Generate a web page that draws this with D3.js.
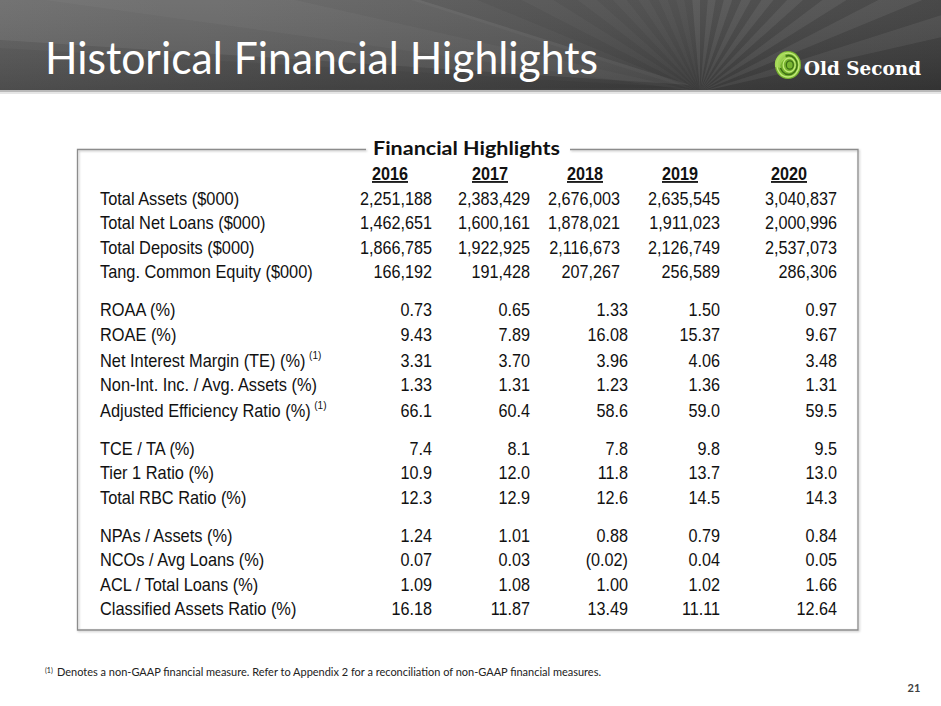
<!DOCTYPE html>
<html><head><meta charset="utf-8">
<script src="https://cdn.jsdelivr.net/npm/d3@7"></script>
<style>html,body{margin:0;padding:0;background:#fff;}svg{display:block;}</style>
</head><body>
<svg id="c" width="941" height="706"></svg>
<script>
// ---------- data ----------
const pageTitle = "Historical Financial Highlights";
const tableTitle = "Financial Highlights";
const years = ["2016", "2017", "2018", "2019", "2020"];
const rowLabels = [
  "Total Assets ($000)", "Total Net Loans ($000)", "Total Deposits ($000)", "Tang. Common Equity ($000)",
  "ROAA (%)", "ROAE (%)",
  "Net Interest Margin (TE) (%)", "Non-Int. Inc. / Avg. Assets (%)", "Adjusted Efficiency Ratio (%)",
  "TCE / TA (%)", "Tier 1 Ratio (%)", "Total RBC Ratio (%)",
  "NPAs / Assets (%)", "NCOs / Avg Loans (%)", "ACL / Total Loans (%)", "Classified Assets Ratio (%)"
];
const rowGroups = [0,0,0,0, 1,1, 1,1,1, 2,2,2, 3,3,3,3];
const rowNote = [0,0,0,0, 0,0, 1,0,1, 0,0,0, 0,0,0,0];
const rowDecimals = [-1,-1,-1,-1, 2,2, 2,2,1, 1,1,1, 2,2,2,2]; // -1 = thousands with commas
const v2016 = [2251188, 1462651, 1866785, 166192, 0.73, 9.43, 3.31, 1.33, 66.1, 7.4, 10.9, 12.3, 1.24, 0.07, 1.09, 16.18];
const v2017 = [2383429, 1600161, 1922925, 191428, 0.65, 7.89, 3.70, 1.31, 60.4, 8.1, 12.0, 12.9, 1.01, 0.03, 1.08, 11.87];
const v2018 = [2676003, 1878021, 2116673, 207267, 1.33, 16.08, 3.96, 1.23, 58.6, 7.8, 11.8, 12.6, 0.88, -0.02, 1.00, 13.49];
const v2019 = [2635545, 1911023, 2126749, 256589, 1.50, 15.37, 4.06, 1.36, 59.0, 9.8, 13.7, 14.5, 0.79, 0.04, 1.02, 11.11];
const v2020 = [3040837, 2000996, 2537073, 286306, 0.97, 9.67, 3.48, 1.31, 59.5, 9.5, 13.0, 14.3, 0.84, 0.05, 1.66, 12.64];
const noteMark = "(1)";
const footnoteText = "Denotes a non-GAAP financial measure.  Refer to Appendix 2 for a reconciliation of non-GAAP financial measures.";
const pageNumber = "21";
const brand = "Old Second";

// ---------- layout ----------
const columns = [v2016, v2017, v2018, v2019, v2020];
const svg = d3.select("#c");
const W = 941, H = 706;
const defs = svg.append("defs");

// header background
const hg = defs.append("linearGradient").attr("id","hg").attr("x1",0).attr("y1",0).attr("x2",1).attr("y2",0);
hg.append("stop").attr("offset","0%").attr("stop-color","#5c5c5c");
hg.append("stop").attr("offset","55%").attr("stop-color","#494949");
hg.append("stop").attr("offset","100%").attr("stop-color","#393939");
const hv = defs.append("linearGradient").attr("id","hv").attr("x1",0).attr("y1",0).attr("x2",0).attr("y2",1);
hv.append("stop").attr("offset","0%").attr("stop-color","#ffffff").attr("stop-opacity",0.08);
hv.append("stop").attr("offset","100%").attr("stop-color","#000000").attr("stop-opacity",0.12);
defs.append("clipPath").attr("id","hclip").append("rect").attr("width",W).attr("height",91);

const header = svg.append("g").attr("clip-path","url(#hclip)");
header.append("rect").attr("width",W).attr("height",91).attr("fill","url(#hg)");
header.append("path").attr("d","M0,0 L420,0 L690,85 L0,40 Z").attr("fill","#ffffff").attr("opacity",0.07);
header.append("path").attr("d","M0,48 L690,88 L0,91 Z").attr("fill","#000").attr("opacity",0.05);
// sunburst rays
const ox = 700, oy = 92;
const nRays = 34;
const angScale = d3.scaleLinear().domain([0, nRays]).range([-172, -8]);
for (let i = 0; i < nRays; i += 2) {
  const a0 = angScale(i) * Math.PI/180, a1 = angScale(i+1) * Math.PI/180, R = 900;
  header.append("path")
    .attr("d", `M${ox},${oy} L${ox + R*Math.cos(a0)},${oy + R*Math.sin(a0)} L${ox + R*Math.cos(a1)},${oy + R*Math.sin(a1)} Z`)
    .attr("fill", "#ffffff").attr("opacity", i > 14 ? 0.07 : 0.03);
}
header.append("rect").attr("width",W).attr("height",91).attr("fill","url(#hv)");
svg.append("rect").attr("y",90).attr("width",W).attr("height",2).attr("fill","#b9b9b9");
svg.append("rect").attr("y",92).attr("width",W).attr("height",2).attr("fill","#e6e6e6");

// page title
svg.append("text").attr("x",45).attr("y",74)
  .attr("font-family","Lato, 'Open Sans', sans-serif").attr("font-size",45)
  .attr("fill","#ffffff").attr("textLength",553).attr("lengthAdjust","spacingAndGlyphs")
  .text(pageTitle);

// logo
const logo = svg.append("g").attr("transform","translate(788,65)");
logo.append("ellipse").attr("rx",13).attr("ry",14).attr("fill","#79b530");
[[11,12],[8.5,9.5],[6,7],[3.5,4.2]].forEach((r,i) => logo.append("ellipse").attr("rx",r[0]).attr("ry",r[1])
  .attr("cx", i*0.6).attr("fill","none")
  .attr("stroke", i%2 ? "#3d6e16" : "#c2ea7a").attr("stroke-width",1.3));
logo.append("path").attr("d","M-13,2 A13,13 0 0 1 -3,-13 L-2,-6 A7,7 0 0 0 -7,3 Z").attr("fill","#a8dc5a").attr("opacity",0.85);
svg.append("text").attr("x",804).attr("y",75)
  .attr("font-family","'DejaVu Serif', 'Liberation Serif', serif").attr("font-weight","bold")
  .attr("font-size",18).attr("fill","#ffffff").attr("textLength",117).attr("lengthAdjust","spacingAndGlyphs")
  .text(brand);

// table frame
const box = {x0: 77.5, y0: 149.5, x1: 858, y1: 630};
defs.append("filter").attr("id","sh").append("feDropShadow")
  .attr("dx",1).attr("dy",1).attr("stdDeviation",1).attr("flood-color","#000").attr("flood-opacity",0.25);
svg.append("g").attr("filter","url(#sh)").append("path")
  .attr("d", `M366,${box.y0} L${box.x0},${box.y0} L${box.x0},${box.y1} L${box.x1},${box.y1} L${box.x1},${box.y0} L570,${box.y0}`)
  .attr("fill","none").attr("stroke","#8c8c8c").attr("stroke-width",1.3);
svg.append("text").attr("x",373).attr("y",155)
  .attr("font-family","Lato, 'Open Sans', sans-serif").attr("font-weight","bold")
  .attr("font-size",19.5).attr("fill","#111").attr("textLength",187).attr("lengthAdjust","spacingAndGlyphs")
  .text(tableTitle);

// scales
const slot = rowLabels.map((d,i) => i + rowGroups[i]*0.56 + (i>=6?0.06:0) + (i>=8?0.06:0));
const y = d3.scaleLinear().domain([0, 1]).range([205, 229.4]);
const xRight = d3.scaleOrdinal().domain(years).range([432, 530, 628, 720, 837]);
const xHead = d3.scaleOrdinal().domain(years).range([390, 490, 585, 680, 789]);

const font = "'Liberation Sans', Arial, sans-serif";
const txtCol = "#111";
const fmtMoney = d3.format(",");
function fmt(v, dec) {
  if (dec < 0) return fmtMoney(v);
  const s = Math.abs(v).toFixed(dec);
  return v < 0 ? "(" + s + ")" : s;
}

// column headers
const heads = svg.append("g").selectAll("g").data(years).join("g")
  .attr("transform", d => `translate(${xHead(d)},180) scale(0.9,1)`);
heads.append("text").attr("text-anchor","middle").attr("font-family",font).attr("font-weight","bold")
  .attr("font-size",18).attr("fill",txtCol).attr("text-decoration","underline").text(d => d);

// row labels
const labels = svg.append("g").selectAll("text").data(rowLabels).join("text")
  .attr("x",100).attr("y",(d,i) => y(slot[i]))
  .attr("font-family",font).attr("font-size",18).attr("fill",txtCol)
  .attr("transform",`translate(100,0) scale(0.91,1) translate(-100,0)`)
  .text(d => d);
labels.filter((d,i) => rowNote[i]).append("tspan").attr("dx",4).attr("dy",-8)
  .attr("font-size",11).text(noteMark);

// values
columns.forEach((col, ci) => {
  const yr = years[ci];
  svg.append("g").selectAll("g").data(col).join("g")
    .attr("transform",(d,i) => {
      let xr = xRight(yr);
      if (yr === "2018" && rowDecimals[i] < 0) xr -= 8;
      return `translate(${xr},${y(slot[i])}) scale(0.9,1)`;
    })
    .append("text").attr("text-anchor","end").attr("font-family",font).attr("font-size",18)
    .attr("fill",txtCol).text((d,i) => fmt(d, rowDecimals[i]));
});

// footnote
const fn = svg.append("text").attr("x",45).attr("y",676)
  .attr("font-family","Lato, 'Open Sans', sans-serif").attr("font-size",10.5).attr("fill","#222");
fn.append("tspan").attr("font-size",7).attr("dy",-3).text(noteMark);
fn.append("tspan").attr("x",57).attr("dy",3).attr("textLength",544).attr("lengthAdjust","spacingAndGlyphs").text(footnoteText);

svg.append("text").attr("x",914).attr("y",692).attr("text-anchor","middle")
  .attr("font-family","Lato, 'Open Sans', sans-serif").attr("font-weight","bold")
  .attr("font-size",11).attr("fill","#404040").text(pageNumber);
</script>
</body></html>
